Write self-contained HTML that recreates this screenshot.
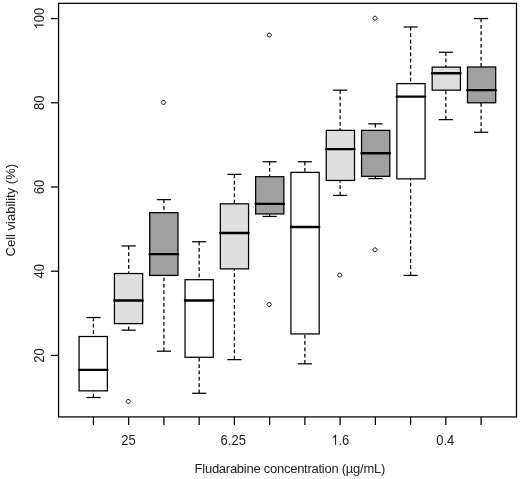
<!DOCTYPE html>
<html><head><meta charset="utf-8"><style>
html,body{margin:0;padding:0;background:#fff;}
svg{display:block;will-change:transform;}
text{font-family:"Liberation Sans",sans-serif;font-size:13px;fill:#222;}
.lab path{fill:#222;}
.wh{stroke:#000;stroke-width:1.25;stroke-dasharray:3.75 2.6;}
.st{stroke:#000;stroke-width:1.25;}
.bx{stroke:#000;stroke-width:1.25;}
.md{stroke:#000;stroke-width:2.4;stroke-linecap:round;}
.ol{stroke:#111;stroke-width:0.95;fill:none;stroke-linejoin:round;}
.tk{stroke:#000;stroke-width:1.25;}
.fr{stroke:#000;stroke-width:1.25;fill:none;}
</style></head><body>
<svg width="520" height="479" viewBox="0 0 520 479">
<rect x="58.55" y="3.35" width="457.95" height="413.55" class="fr"/>
<line class="wh" x1="93.44" y1="317.52" x2="93.44" y2="336.50"/>
<line class="wh" x1="93.44" y1="397.51" x2="93.44" y2="390.86"/>
<line class="st" x1="86.38" y1="317.52" x2="100.50" y2="317.52"/>
<line class="st" x1="86.38" y1="397.51" x2="100.50" y2="397.51"/>
<rect class="bx" x="79.11" y="336.50" width="28.25" height="54.36" fill="#ffffff"/>
<line class="md" x1="79.11" y1="369.85" x2="107.36" y2="369.85"/>
<line class="tk" x1="93.44" y1="416.9" x2="93.44" y2="424.9"/>
<line class="wh" x1="128.68" y1="245.94" x2="128.68" y2="273.52"/>
<line class="wh" x1="128.68" y1="330.15" x2="128.68" y2="323.62"/>
<line class="st" x1="121.62" y1="245.94" x2="135.74" y2="245.94"/>
<line class="st" x1="121.62" y1="330.15" x2="135.74" y2="330.15"/>
<rect class="bx" x="114.42" y="273.52" width="28.25" height="50.10" fill="#dedede"/>
<line class="md" x1="114.42" y1="300.46" x2="142.67" y2="300.46"/>
<path class="ol" d="M126.03 401.38L127.43 399.48L129.23 399.48L130.63 401.38L129.23 403.28L127.43 403.28Z"/>
<line class="tk" x1="128.68" y1="416.9" x2="128.68" y2="424.9"/>
<line class="wh" x1="163.92" y1="199.62" x2="163.92" y2="212.67"/>
<line class="wh" x1="163.92" y1="351.20" x2="163.92" y2="275.41"/>
<line class="st" x1="156.86" y1="199.62" x2="170.98" y2="199.62"/>
<line class="st" x1="156.86" y1="351.20" x2="170.98" y2="351.20"/>
<rect class="bx" x="149.72" y="212.67" width="28.25" height="62.74" fill="#a0a0a0"/>
<line class="md" x1="149.72" y1="254.15" x2="177.97" y2="254.15"/>
<path class="ol" d="M161.27 102.43L162.67 100.53L164.47 100.53L165.87 102.43L164.47 104.33L162.67 104.33Z"/>
<line class="tk" x1="163.92" y1="416.9" x2="163.92" y2="424.9"/>
<line class="wh" x1="199.16" y1="241.73" x2="199.16" y2="279.71"/>
<line class="wh" x1="199.16" y1="393.30" x2="199.16" y2="357.26"/>
<line class="st" x1="192.10" y1="241.73" x2="206.22" y2="241.73"/>
<line class="st" x1="192.10" y1="393.30" x2="206.22" y2="393.30"/>
<rect class="bx" x="185.03" y="279.71" width="28.25" height="77.56" fill="#ffffff"/>
<line class="md" x1="185.03" y1="300.55" x2="213.28" y2="300.55"/>
<line class="tk" x1="199.16" y1="416.9" x2="199.16" y2="424.9"/>
<line class="wh" x1="234.40" y1="174.36" x2="234.40" y2="203.83"/>
<line class="wh" x1="234.40" y1="359.62" x2="234.40" y2="268.88"/>
<line class="st" x1="227.34" y1="174.36" x2="241.46" y2="174.36"/>
<line class="st" x1="227.34" y1="359.62" x2="241.46" y2="359.62"/>
<rect class="bx" x="220.33" y="203.83" width="28.25" height="65.05" fill="#dedede"/>
<line class="md" x1="220.33" y1="232.97" x2="248.58" y2="232.97"/>
<line class="tk" x1="234.40" y1="416.9" x2="234.40" y2="424.9"/>
<line class="wh" x1="269.64" y1="161.73" x2="269.64" y2="176.72"/>
<line class="wh" x1="269.64" y1="216.46" x2="269.64" y2="213.94"/>
<line class="st" x1="262.58" y1="161.73" x2="276.70" y2="161.73"/>
<line class="st" x1="262.58" y1="216.46" x2="276.70" y2="216.46"/>
<rect class="bx" x="255.64" y="176.72" width="28.25" height="37.22" fill="#a0a0a0"/>
<line class="md" x1="255.64" y1="203.83" x2="283.89" y2="203.83"/>
<path class="ol" d="M266.99 35.06L268.39 33.16L270.19 33.16L271.59 35.06L270.19 36.96L268.39 36.96Z"/>
<path class="ol" d="M266.99 304.53L268.39 302.63L270.19 302.63L271.59 304.53L270.19 306.43L268.39 306.43Z"/>
<line class="tk" x1="269.64" y1="416.9" x2="269.64" y2="424.9"/>
<line class="wh" x1="304.89" y1="161.73" x2="304.89" y2="172.38"/>
<line class="wh" x1="304.89" y1="363.83" x2="304.89" y2="333.94"/>
<line class="st" x1="297.83" y1="161.73" x2="311.95" y2="161.73"/>
<line class="st" x1="297.83" y1="363.83" x2="311.95" y2="363.83"/>
<rect class="bx" x="290.94" y="172.38" width="28.25" height="161.56" fill="#ffffff"/>
<line class="md" x1="290.94" y1="226.99" x2="319.19" y2="226.99"/>
<line class="tk" x1="304.89" y1="416.9" x2="304.89" y2="424.9"/>
<line class="wh" x1="340.13" y1="90.15" x2="340.13" y2="130.36"/>
<line class="wh" x1="340.13" y1="195.41" x2="340.13" y2="180.46"/>
<line class="st" x1="333.07" y1="90.15" x2="347.19" y2="90.15"/>
<line class="st" x1="333.07" y1="195.41" x2="347.19" y2="195.41"/>
<rect class="bx" x="326.25" y="130.36" width="28.25" height="50.10" fill="#dedede"/>
<line class="md" x1="326.25" y1="149.10" x2="354.50" y2="149.10"/>
<path class="ol" d="M337.48 275.06L338.88 273.16L340.68 273.16L342.08 275.06L340.68 276.96L338.88 276.96Z"/>
<line class="tk" x1="340.13" y1="416.9" x2="340.13" y2="424.9"/>
<line class="wh" x1="375.37" y1="123.83" x2="375.37" y2="130.36"/>
<line class="wh" x1="375.37" y1="178.57" x2="375.37" y2="176.30"/>
<line class="st" x1="368.31" y1="123.83" x2="382.43" y2="123.83"/>
<line class="st" x1="368.31" y1="178.57" x2="382.43" y2="178.57"/>
<rect class="bx" x="361.55" y="130.36" width="28.25" height="45.94" fill="#a0a0a0"/>
<line class="md" x1="361.55" y1="153.31" x2="389.80" y2="153.31"/>
<path class="ol" d="M372.72 18.22L374.12 16.32L375.92 16.32L377.32 18.22L375.92 20.12L374.12 20.12Z"/>
<path class="ol" d="M372.72 249.80L374.12 247.90L375.92 247.90L377.32 249.80L375.92 251.70L374.12 251.70Z"/>
<line class="tk" x1="375.37" y1="416.9" x2="375.37" y2="424.9"/>
<line class="wh" x1="410.61" y1="26.99" x2="410.61" y2="83.62"/>
<line class="wh" x1="410.61" y1="275.41" x2="410.61" y2="178.86"/>
<line class="st" x1="403.55" y1="26.99" x2="417.67" y2="26.99"/>
<line class="st" x1="403.55" y1="275.41" x2="417.67" y2="275.41"/>
<rect class="bx" x="396.86" y="83.62" width="28.25" height="95.24" fill="#ffffff"/>
<line class="md" x1="396.86" y1="96.59" x2="425.11" y2="96.59"/>
<line class="tk" x1="410.61" y1="416.9" x2="410.61" y2="424.9"/>
<line class="wh" x1="445.85" y1="52.25" x2="445.85" y2="67.12"/>
<line class="wh" x1="445.85" y1="119.62" x2="445.85" y2="90.15"/>
<line class="st" x1="438.79" y1="52.25" x2="452.91" y2="52.25"/>
<line class="st" x1="438.79" y1="119.62" x2="452.91" y2="119.62"/>
<rect class="bx" x="432.17" y="67.12" width="28.25" height="23.03" fill="#dedede"/>
<line class="md" x1="432.17" y1="73.31" x2="460.42" y2="73.31"/>
<line class="tk" x1="445.85" y1="416.9" x2="445.85" y2="424.9"/>
<line class="wh" x1="481.09" y1="18.57" x2="481.09" y2="66.99"/>
<line class="wh" x1="481.09" y1="132.25" x2="481.09" y2="102.78"/>
<line class="st" x1="474.03" y1="18.57" x2="488.15" y2="18.57"/>
<line class="st" x1="474.03" y1="132.25" x2="488.15" y2="132.25"/>
<rect class="bx" x="467.47" y="66.99" width="28.25" height="35.79" fill="#a0a0a0"/>
<line class="md" x1="467.47" y1="90.15" x2="495.72" y2="90.15"/>
<line class="tk" x1="481.09" y1="416.9" x2="481.09" y2="424.9"/>
<line class="tk" x1="50.9" y1="355.41" x2="58.55" y2="355.41"/>
<g class="lab" transform="translate(43.70,355.41) rotate(-90) scale(1,1.06)"><text x="-7.230" y="0">20</text></g>
<line class="tk" x1="50.9" y1="271.20" x2="58.55" y2="271.20"/>
<g class="lab" transform="translate(43.70,271.20) rotate(-90) scale(1,1.06)"><text x="-7.230" y="0">40</text></g>
<line class="tk" x1="50.9" y1="186.99" x2="58.55" y2="186.99"/>
<g class="lab" transform="translate(43.70,186.99) rotate(-90) scale(1,1.06)"><text x="-7.230" y="0">60</text></g>
<line class="tk" x1="50.9" y1="102.78" x2="58.55" y2="102.78"/>
<g class="lab" transform="translate(43.70,102.78) rotate(-90) scale(1,1.06)"><text x="-7.230" y="0">80</text></g>
<line class="tk" x1="50.9" y1="18.57" x2="58.55" y2="18.57"/>
<g class="lab" transform="translate(43.70,18.57) rotate(-90) scale(1,1.06)"><path transform="translate(-10.845,0) scale(0.006348,-0.006348)" d="M763 0L583 0L583 1147L518 1085L412 1023L312 976L225 941L225 1115L370 1183L484 1280L601 1384L649 1466L763 1466Z"/><text x="-3.615" y="0">00</text></g>
<g class="lab" transform="translate(128.50,444.80) scale(1,1.11)"><text x="-7.230" y="0">25</text></g>
<g class="lab" transform="translate(233.25,444.80) scale(1,1.11)"><text x="-12.651" y="0">6.25</text></g>
<g class="lab" transform="translate(340.30,444.80) scale(1,1.11)"><path transform="translate(-9.036,0) scale(0.006348,-0.006348)" d="M763 0L583 0L583 1147L518 1085L412 1023L312 976L225 941L225 1115L370 1183L484 1280L601 1384L649 1466L763 1466Z"/><text x="-1.806" y="0">.6</text></g>
<g class="lab" transform="translate(445.30,444.80) scale(1,1.11)"><text x="-9.036" y="0">0.4</text></g>
<g transform="translate(194.6,473.2)"><text x="0" y="0" letter-spacing="-0.26">Fludarabine concentration (µg/mL)</text></g>
<g transform="translate(14.9,210.2) rotate(-90) scale(1,1.02)"><text x="0" y="0" text-anchor="middle">Cell viability (%)</text></g>
</svg>
</body></html>
